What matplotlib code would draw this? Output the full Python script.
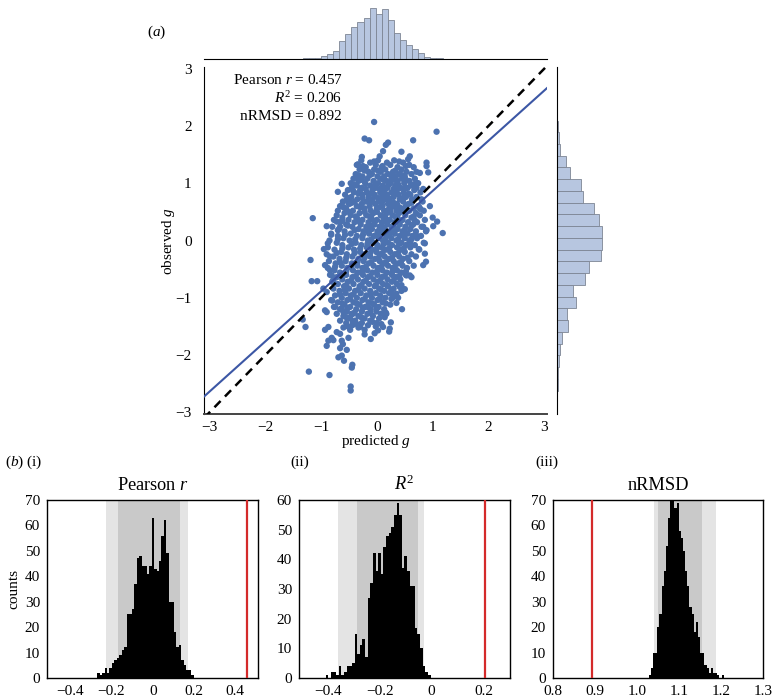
import numpy as np
import matplotlib
matplotlib.use('Agg')
import matplotlib.pyplot as plt

plt.rcParams['font.family'] = ['Liberation Serif', 'DejaVu Serif']
plt.rcParams['mathtext.fontset'] = 'custom'
plt.rcParams['mathtext.rm'] = 'Liberation Serif'
plt.rcParams['mathtext.it'] = 'Liberation Serif:italic'
plt.rcParams['font.size'] = 11

# ---- panel (a): predicted vs observed g ----
# dense core: thin rows of observed g, each with its predicted g values
row_obs = [1.40, 1.36, 1.32, 1.28, 1.24, 1.20, 1.16, 1.12, 1.08, 1.04, 1.00, 0.96, 0.92,
           0.88, 0.84, 0.80, 0.76, 0.72, 0.68, 0.64, 0.60, 0.56, 0.52, 0.48, 0.44, 0.40,
           0.36, 0.32, 0.28, 0.24, 0.20, 0.16, 0.12, 0.08, 0.04, 0.00, -0.04, -0.08,
           -0.12, -0.16, -0.20, -0.24, -0.28, -0.32, -0.36, -0.40, -0.44, -0.48, -0.52,
           -0.56, -0.60, -0.64, -0.68, -0.72, -0.76, -0.80, -0.84, -0.88, -0.92, -0.96,
           -1.00, -1.04, -1.08, -1.12, -1.16, -1.20, -1.24, -1.28, -1.32, -1.36, -1.40,
           -1.44, -1.48, -1.52, -1.56]
row_pred = [
    [-0.28, 0.02, 0.31],
    [-0.12, 0.18, 0.47],
    [-0.36, -0.02, 0.24, 0.58],
    [-0.20, 0.09, 0.37, 0.66],
    [-0.31, -0.05, 0.15, 0.44],
    [-0.15, 0.07, 0.29, 0.53, 0.71],
    [-0.38, -0.09, 0.20, 0.40, 0.62],
    [-0.26, 0.01, 0.13, 0.34, 0.50],
    [-0.42, -0.17, 0.06, 0.26, 0.45, 0.68],
    [-0.33, -0.06, 0.17, 0.37, 0.58],
    [-0.47, -0.21, 0.02, 0.24, 0.49, 0.74],
    [-0.36, -0.12, 0.11, 0.33, 0.61],
    [-0.27, -0.02, 0.19, 0.42, 0.55],
    [-0.52, -0.30, -0.08, 0.14, 0.36, 0.67],
    [-0.41, -0.18, 0.06, 0.26, 0.48, 0.78],
    [-0.57, -0.26, -0.04, 0.18, 0.39, 0.60],
    [-0.46, -0.15, 0.09, 0.30, 0.52, 0.71],
    [-0.35, -0.08, 0.15, 0.41, 0.63],
    [-0.61, -0.40, -0.19, 0.03, 0.24, 0.47, 0.82],
    [-0.49, -0.27, -0.03, 0.20, 0.36, 0.57],
    [-0.66, -0.36, -0.13, 0.10, 0.31, 0.52, 0.74],
    [-0.55, -0.22, 0.00, 0.22, 0.44, 0.66],
    [-0.70, -0.43, -0.11, 0.13, 0.35, 0.58, 0.84],
    [-0.58, -0.31, -0.06, 0.18, 0.40, 0.70],
    [-0.72, -0.47, -0.19, 0.07, 0.28, 0.51, 0.77],
    [-0.62, -0.36, -0.10, 0.15, 0.37, 0.62],
    [-0.77, -0.51, -0.26, 0.00, 0.23, 0.46, 0.86],
    [-0.66, -0.40, -0.15, 0.09, 0.32, 0.56, 0.72],
    [-0.55, -0.29, -0.04, 0.19, 0.41, 0.65],
    [-0.80, -0.44, -0.19, 0.05, 0.27, 0.51, 0.80],
    [-0.68, -0.33, -0.09, 0.14, 0.37, 0.60],
    [-0.58, -0.24, 0.01, 0.23, 0.46, 0.70, 0.88],
    [-0.82, -0.47, -0.14, 0.09, 0.32, 0.55],
    [-0.70, -0.36, -0.05, 0.18, 0.41, 0.64, 0.79],
    [-0.60, -0.26, 0.03, 0.26, 0.50, 0.72],
    [-0.85, -0.49, -0.16, 0.11, 0.35, 0.58],
    [-0.72, -0.38, -0.07, 0.20, 0.44, 0.84],
    [-0.62, -0.28, 0.01, 0.27, 0.52, 0.68],
    [-0.88, -0.51, -0.18, 0.09, 0.36, 0.60],
    [-0.76, -0.41, -0.09, 0.16, 0.43, 0.76],
    [-0.64, -0.30, -0.01, 0.24, 0.50],
    [-0.90, -0.54, -0.21, 0.06, 0.32, 0.62],
    [-0.78, -0.44, -0.12, 0.14, 0.40, 0.70],
    [-0.67, -0.33, -0.03, 0.22, 0.47],
    [-0.86, -0.56, -0.24, 0.05, 0.30, 0.58],
    [-0.74, -0.45, -0.15, 0.12, 0.38],
    [-0.63, -0.35, -0.06, 0.20, 0.46, 0.66],
    [-0.88, -0.53, -0.26, 0.02, 0.28, 0.54],
    [-0.76, -0.43, -0.17, 0.10, 0.36],
    [-0.66, -0.34, -0.08, 0.18, 0.44],
    [-0.84, -0.55, -0.25, 0.01, 0.27, 0.52],
    [-0.72, -0.44, -0.16, 0.09, 0.34],
    [-0.62, -0.34, -0.06, 0.19, 0.42],
    [-0.80, -0.52, -0.24, 0.02, 0.27],
    [-0.70, -0.42, -0.14, 0.11, 0.36],
    [-0.59, -0.31, -0.04, 0.20],
    [-0.78, -0.50, -0.22, 0.04, 0.30],
    [-0.67, -0.39, -0.12, 0.13, 0.44],
    [-0.56, -0.29, -0.02, 0.22],
    [-0.75, -0.47, -0.19, 0.06],
    [-0.63, -0.36, -0.09, 0.15, 0.38],
    [-0.82, -0.53, -0.26, 0.01],
    [-0.70, -0.42, -0.15, 0.10],
    [-0.58, -0.31, -0.05, 0.24],
    [-0.77, -0.48, -0.21, 0.03],
    [-0.66, -0.37, -0.11, 0.13],
    [-0.54, -0.27, -0.01],
    [-0.72, -0.43, -0.17, 0.07],
    [-0.60, -0.33, -0.07],
    [-0.49, -0.22, 0.04],
    [-0.66, -0.39, -0.12],
    [-0.55, -0.27, 0.00],
    [-0.44, -0.16],
    [-0.60, -0.33],
    [-0.48, -0.22],
]
# extra core points lying between the rows above
fill_obs = [1.38, 1.30, 1.22, 1.14, 1.06, 0.98, 0.90, 0.82, 0.74, 0.66, 0.58, 0.50, 0.42,
            0.34, 0.26, 0.18, 0.10, 0.02, -0.06, -0.14, -0.22, -0.30, -0.38, -0.46, -0.54,
            -0.62, -0.70, -0.78, -0.86, -0.94, -1.02, -1.10, -1.18, -1.26, -1.34, -1.42,
            -1.50]
fill_pred = [
    [-0.05, 0.40],
    [0.10, -0.25, 0.52],
    [-0.22, 0.33, 0.02],
    [0.45, -0.13, 0.27, -0.33],
    [0.12, -0.27, 0.52, 0.31],
    [-0.02, 0.38, -0.41, 0.22, 0.66],
    [0.05, -0.20, 0.30, 0.49, -0.44],
    [-0.33, 0.13, 0.57, -0.10, 0.34],
    [0.21, -0.26, 0.46, -0.52, 0.02],
    [-0.12, 0.30, -0.45, 0.62, 0.09],
    [0.05, -0.30, 0.40, -0.60, 0.26, 0.76],
    [-0.22, 0.24, -0.51, 0.49, 0.00],
    [0.11, -0.38, 0.33, -0.13, 0.66],
    [-0.05, -0.62, 0.42, 0.15, -0.33],
    [0.30, -0.12, -0.52, 0.62, 0.09],
    [-0.40, 0.05, 0.50, -0.18, 0.28, -0.70],
    [0.22, -0.25, 0.47, -0.57, 0.00, 0.70],
    [-0.10, 0.38, -0.39, 0.15, -0.70, 0.62],
    [0.12, -0.45, 0.40, -0.17, 0.60],
    [-0.30, 0.22, -0.62, 0.48, 0.00],
    [0.10, -0.40, 0.38, -0.12, -0.72],
    [-0.22, 0.27, -0.55, 0.03, 0.55],
    [0.16, -0.35, -0.10, 0.43, -0.66],
    [-0.20, 0.32, -0.46, 0.08, -0.75],
    [0.00, -0.55, 0.28, -0.26, 0.52],
    [-0.38, 0.14, -0.12, 0.40, -0.66],
    [0.06, -0.46, 0.30, -0.20],
    [-0.28, 0.18, -0.55, -0.02, 0.44],
    [0.08, -0.33, -0.58, 0.26],
    [-0.42, -0.12, 0.30, -0.66],
    [-0.22, 0.05, -0.48, 0.26],
    [-0.36, -0.08, 0.16, -0.62],
    [-0.25, 0.00, -0.52],
    [-0.40, -0.12, 0.16],
    [-0.28, -0.55],
    [-0.43, -0.08],
    [-0.52, -0.02],
]
# sparse points around the core
outlier_pts = [
    (-0.05, 2.07), (1.07, 1.90), (-0.22, 1.78), (-0.14, 1.75), (0.20, 1.71), (0.16, 1.67),
    (0.65, 1.75), (0.11, 1.56), (0.44, 1.55), (-0.27, 1.46), (0.05, 1.47), (0.56, 1.42),
    (0.59, 1.47), (-0.34, 1.33), (0.89, 1.36), (0.89, 1.30), (0.77, 1.18), (0.92, 1.19),
    (-0.63, 0.99), (-0.36, 1.11), (-0.45, 0.92), (-0.42, 0.86), (0.71, 1.01), (0.71, 0.92),
    (0.83, 0.90), (-0.54, 0.71), (-0.51, 0.65), (-0.63, 0.61), (-1.15, 0.39), (-0.90, 0.25),
    (-0.72, 0.33), (-0.66, 0.24), (1.00, 0.40), (1.01, 0.25), (1.08, 0.33), (1.18, 0.13),
    (0.83, 0.24), (0.89, 0.18), (0.86, -0.05), (-1.19, -0.34), (-0.93, -0.43), (-0.84, -0.28),
    (0.83, -0.43), (0.86, -0.23), (0.88, -0.37), (0.62, -0.64), (0.95, 0.60), (0.78, 0.55),
    (-0.82, 0.10), (-0.95, -0.15), (0.75, -0.15), (0.68, 0.35), (-0.70, 0.85), (0.80, 0.72),
    (-0.88, -0.05), (0.50, -0.85), (-0.80, -1.05), (0.45, -1.20),
    (-1.22, -2.29), (-0.85, -2.35), (-0.47, -2.55), (-0.47, -2.62), (-0.44, -2.17),
    (-0.45, -2.22), (-0.59, -2.10), (-0.69, -2.04), (-0.63, -2.01), (-0.54, -1.91),
    (-0.66, -1.88), (-0.90, -1.84), (-0.87, -1.75), (-0.81, -1.70), (-0.78, -1.74),
    (-0.63, -1.75), (-0.61, -1.81), (-0.51, -1.70), (-0.11, -1.72), (-0.22, -1.64),
    (-1.28, -1.51), (-1.33, -1.38), (-0.93, -1.56), (-0.87, -1.51), (-0.72, -1.60),
    (-0.66, -1.63), (-0.04, -1.62), (0.02, -1.57), (0.23, -1.54), (0.22, -1.59),
    (0.11, -1.51), (0.08, -1.46), (0.25, -1.43), (0.17, -1.28), (0.14, -1.34),
    (0.35, -1.09), (-0.36, -1.46), (-0.30, -1.51), (-0.45, -1.28), (-0.48, -1.34),
    (-0.63, -1.19), (-0.60, -1.25), (-0.75, -1.16), (-0.93, -1.22), (-0.90, -1.25),
    (-0.96, -0.84), (-0.90, -0.90), (-1.17, -0.71), (-1.07, -0.71), (-0.78, -0.69),
    (-0.81, -0.61), (-0.84, -0.52), (0.53, -0.61), (0.59, -0.61), (0.35, -0.93),
    (0.29, -0.99), (0.41, -0.81), (-0.16, -1.16),
]
fit_slope = 0.876
fit_intercept = -0.01
stats_text = ['Pearson $r$ = 0.457', '$R^2$ = 0.206', 'nRMSD = 0.892']

# marginal histograms (bar heights)
pred_hist_start, pred_hist_width = -1.33, 0.109
pred_hist_counts = [1, 2, 1, 4, 7, 12, 25, 36, 45, 53, 58, 72, 64, 71, 55, 37, 27, 20, 14, 8, 3, 2, 1]
obs_hist_start, obs_hist_width = -2.62, 0.205
obs_hist_counts = [2, 2, 3, 4, 7, 17, 15, 28, 24, 41, 48, 66, 67, 67, 62, 55, 39, 36, 20, 13, 5, 3, 2]

# ---- panel (b): permutation distributions ----
r_start, r_width = -0.270, 0.012
r_counts = [2, 1, 2, 4, 2, 4, 6, 7, 8, 9, 11, 12, 25, 25, 27, 37, 47, 48, 44, 44, 41, 44,
            63, 43, 42, 46, 56, 62, 49, 30, 30, 18, 12, 13, 7, 5, 3, 3, 1]
r2_start, r2_width = -0.408, 0.0101
r2_counts = [1, 0, 2, 2, 1, 4, 1, 2, 4, 4, 5, 15, 8, 11, 13, 7, 27, 32, 42, 36, 42, 35,
             44, 48, 49, 51, 55, 59, 55, 37, 41, 36, 31, 31, 17, 15, 10, 4, 2, 1]
nr_start, nr_width = 1.028, 0.0051
nr_counts = [1, 4, 10, 10, 20, 25, 36, 42, 52, 63, 70, 70, 67, 69, 58, 55, 50, 42, 36,
             28, 25, 18, 22, 16, 10, 10, 5, 4, 2, 4, 2, 2, 1, 0, 1]

observed_vals = [0.457, 0.206, 0.892]
outer_bands = [(-0.228, 0.171), (-0.361, -0.030), (1.040, 1.187)]
inner_bands = [(-0.171, 0.131), (-0.287, -0.052), (1.050, 1.155)]
panel_titles = ['Pearson $r$', '$R^2$', 'nRMSD']
panel_tags = ['($b$) (i)', '(ii)', '(iii)']

W, H = 774, 698
fig = plt.figure(figsize=(W / 100, H / 100), dpi=100)


def box(l, t, r, b):
    # pixel box -> figure fraction
    return [l / W, 1 - b / H, (r - l) / W, (b - t) / H]


pt_color = '#4C72B0'
marg_face = '#b7c6e0'
marg_edge = '#7d8594'

ax = fig.add_axes(box(204, 67, 547, 414))
ax_top = fig.add_axes(box(204, 5, 547, 59), sharex=ax)
ax_right = fig.add_axes(box(557, 67, 611, 414), sharey=ax)

pred = ([x for xs in row_pred for x in xs] + [x for xs in fill_pred for x in xs]
        + [p[0] for p in outlier_pts])
obs = ([y for y, xs in zip(row_obs, row_pred) for _ in xs]
       + [y for y, xs in zip(fill_obs, fill_pred) for _ in xs]
       + [p[1] for p in outlier_pts])

ax.scatter(pred, obs, s=21, color=pt_color, edgecolors='none', zorder=2)
lim = np.array([-3.1, 3.05])
ax.plot(lim, fit_intercept + fit_slope * lim, color='#3c57a5', lw=1.5, zorder=3)
ax.plot(lim, lim, color='black', lw=1.8, ls=(0, (3.5, 2.5)), zorder=4)
ax.set_xlim(-3.1, 3.05)
ax.set_ylim(-3.03, 3.03)
ax.set_xticks(range(-3, 4))
ax.set_yticks(range(-3, 4))
ax.tick_params(length=0)
ax.tick_params(axis='y', pad=9)
ax.tick_params(axis='x', pad=5)
for s in ['top', 'right']:
    ax.spines[s].set_visible(False)
ax.spines['left'].set_color('black')
ax.spines['bottom'].set_color('#444444')
ax.spines['bottom'].set_linewidth(1.4)
ax.set_xlabel('predicted $g$', labelpad=-1)
ax.set_ylabel('observed $g$', labelpad=-1)

for i, line in enumerate(stats_text):
    fig.text(342 / W, 1 - (80 + 18.5 * i) / H, line, ha='right', va='center')

pred_edges = pred_hist_start + pred_hist_width * np.arange(len(pred_hist_counts))
ax_top.bar(pred_edges, pred_hist_counts, width=pred_hist_width, align='edge',
           facecolor=marg_face, edgecolor=marg_edge, linewidth=0.6)
ax_top.set_ylim(0, max(pred_hist_counts) * 1.065)
obs_edges = obs_hist_start + obs_hist_width * np.arange(len(obs_hist_counts))
ax_right.barh(obs_edges, obs_hist_counts, height=obs_hist_width, align='edge',
              facecolor=marg_face, edgecolor=marg_edge, linewidth=0.6)
ax_right.set_xlim(0, max(obs_hist_counts) * 1.2)
for a, keep in [(ax_top, 'bottom'), (ax_right, 'left')]:
    for s in ['top', 'right', 'left', 'bottom']:
        a.spines[s].set_visible(s == keep)
    a.spines[keep].set_color('black')
    a.tick_params(left=False, bottom=False, labelleft=False, labelbottom=False)

fig.text(157 / W, 1 - 32 / H, '($a$)', ha='center', va='center')

# ---- bottom row ----
b_boxes = [box(47, 500, 258, 678), box(299, 500, 510, 678), box(553, 500, 763, 678)]
b_counts = [r_counts, r2_counts, nr_counts]
b_starts = [r_start, r2_start, nr_start]
b_widths = [r_width, r2_width, nr_width]
b_xlims = [(-0.513, 0.51), (-0.511, 0.302), (0.812, 1.291)]
b_ylims = [70, 60, 70]
b_xticks = [[-0.4, -0.2, 0, 0.2, 0.4], [-0.4, -0.2, 0, 0.2], [0.8, 0.9, 1.0, 1.1, 1.2, 1.3]]
b_xlabels = [['\u22120.4', '\u22120.2', '0', '0.2', '0.4'],
             ['\u22120.4', '\u22120.2', '0', '0.2'],
             ['0.8', '0.9', '1.0', '1.1', '1.2', '1.3']]
tag_x = [5, 290, 535]

for k in range(3):
    bx = fig.add_axes(b_boxes[k])
    bx.axvspan(*outer_bands[k], color='#e4e4e4', lw=0, zorder=0)
    bx.axvspan(*inner_bands[k], color='#c9c9c9', lw=0, zorder=0)
    edges = b_starts[k] + b_widths[k] * np.arange(len(b_counts[k]) + 1)
    bx.stairs(b_counts[k], edges, fill=True, color='black', zorder=2)
    bx.axvline(observed_vals[k], color='#d42a2a', lw=1.6, zorder=3)
    bx.set_xlim(*b_xlims[k])
    bx.set_ylim(0, b_ylims[k])
    bx.set_yticks(range(0, b_ylims[k] + 1, 10))
    bx.set_xticks(b_xticks[k])
    bx.set_xticklabels(b_xlabels[k])
    bx.tick_params(length=0)
    bx.tick_params(axis='x', pad=5)
    bx.tick_params(axis='y', pad=5)
    for s in bx.spines.values():
        s.set_color('black')
        s.set_linewidth(1.0)
    bx.set_title(panel_titles[k], pad=7)
    fig.text(tag_x[k] / W, 1 - 462 / H, panel_tags[k], ha='left', va='center')
    if k == 0:
        bx.set_ylabel('counts', labelpad=3)

fig.savefig('out.png', dpi=100, facecolor='white')
